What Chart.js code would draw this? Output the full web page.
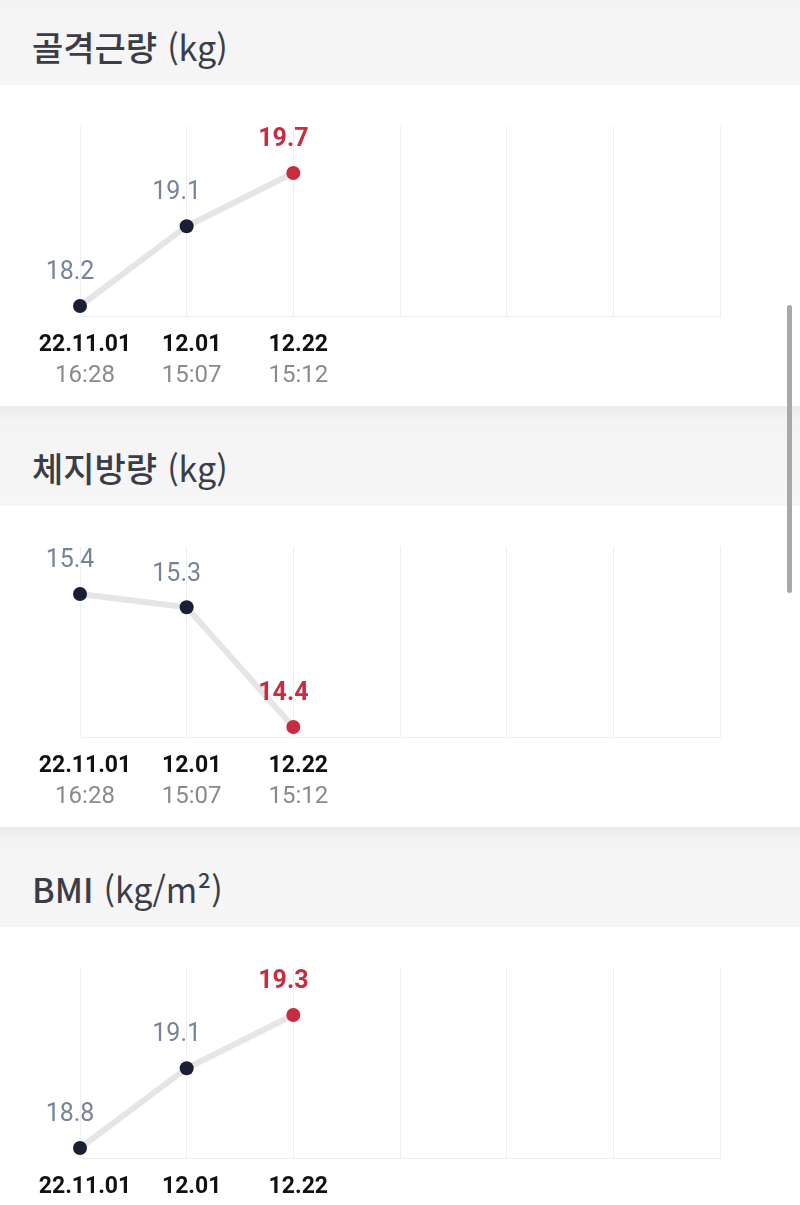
<!DOCTYPE html>
<html lang="ko">
<head>
  <meta charset="UTF-8" />
  <title>체성분 기록</title>
  <script src="https://cdn.jsdelivr.net/npm/chart.js"></script>
  <style>
    html, body { margin: 0; padding: 0; background: #fff; width: 800px; height: 1205px; overflow: hidden; }
    .page { position: relative; top: -15px; }
    .head { height: 100px; background: linear-gradient(to bottom, #ebebeb 0, #f4f4f4 14px, #f6f6f6 100%);
            display: flex; align-items: center; padding-left: 32px; box-sizing: border-box; padding-top: 22px;
            font-family: "Noto Sans CJK KR", sans-serif; font-size: 34px; color: #3a3d48; }
    .head b { font-weight: 500; margin-right: 10px; }
    .head span { font-weight: 400; }
    .block { height: 321px; }
    canvas { display: block; }
    .scroll { position: absolute; left: 787px; top: 305px; width: 5px; height: 288px; background: #a8a8a8; border-radius: 3px; }
  </style>
</head>
<body>
  <div class="page">
    <div class="head"><b>골격근량</b><span>(kg)</span></div>
    <div class="block"><canvas id="chart_muscle" width="800" height="321"></canvas></div>
    <div class="head"><b>체지방량</b><span>(kg)</span></div>
    <div class="block"><canvas id="chart_fat" width="800" height="321"></canvas></div>
    <div class="head"><b>BMI</b><span>(kg/m²)</span></div>
    <div class="block"><canvas id="chart_bmi" width="800" height="321"></canvas></div>
  </div>
  <div class="scroll"></div>

  <script>
    // measurement dates / times
    const dates = ["22.11.01", "12.01", "12.22"];
    const times = ["16:28", "15:07", "15:12"];
    const slotCount = 7; // columns shown on the grid

    const muscle = [18.2, 19.1, 19.7];
    const fat = [15.4, 15.3, 14.4];
    const bmi = [18.8, 19.1, 19.3];

    const navy = "#1b1f33", red = "#c72c41";

    const labels = [];
    for (let i = 0; i < slotCount; i++) labels.push(dates[i] || "");

    const pointLabels = {
      id: "pointLabels",
      afterDatasetsDraw(chart) {
        const ctx = chart.ctx;
        const pts = chart.getDatasetMeta(0).data;
        const vals = chart.data.datasets[0].data;
        ctx.save();
        ctx.textAlign = "center";
        ctx.textBaseline = "middle";
        pts.forEach((p, i) => {
          const last = i === vals.length - 1;
          ctx.font = (last ? "bold " : "") + "25px Roboto, 'Liberation Sans', sans-serif";
          ctx.fillStyle = last ? red : "#75849a";
          ctx.fillText(vals[i].toFixed(1), p.x - 10, p.y - 33);
        });
        // x labels: date (bold) + time
        const x = chart.scales.x, bottom = chart.chartArea.bottom;
        dates.forEach((d, i) => {
          const px = x.getPixelForValue(i) + 5;
          ctx.font = "bold 23px Roboto, 'Liberation Sans', sans-serif";
          ctx.fillStyle = "#111";
          ctx.fillText(d, px, bottom + 29);
          ctx.font = "24px Roboto, 'Liberation Sans', sans-serif";
          ctx.fillStyle = "#8a8a8a";
          ctx.fillText(times[i], px, bottom + 60);
        });
        ctx.restore();
      }
    };

    function makeChart(id, values) {
      const lo = Math.min(...values), hi = Math.max(...values);
      const r = hi - lo;
      new Chart(document.getElementById(id), {
        type: "line",
        data: {
          labels,
          datasets: [{
            data: values,
            borderColor: "#e5e5e5",
            borderWidth: 6,
            tension: 0,
            pointRadius: 7,
            pointHoverRadius: 7,
            pointBorderWidth: 0,
            pointBackgroundColor: values.map((v, i) => i === values.length - 1 ? red : navy),
            pointBorderColor: values.map((v, i) => i === values.length - 1 ? red : navy)
          }]
        },
        options: {
          responsive: false,
          animation: false,
          layout: { padding: { left: 80, right: 80, top: 41, bottom: 90 } },
          plugins: { legend: { display: false }, tooltip: { enabled: false } },
          scales: {
            x: {
              offset: false,
              ticks: { display: false },
              grid: { color: "#efefef", lineWidth: 1, drawTicks: false },
              border: { color: "#efefef" }
            },
            y: {
              display: false,
              min: lo - r * 10 / 133,
              max: lo + r * 180 / 133
            }
          },
          clip: false
        },
        plugins: [pointLabels]
      });
    }

    makeChart("chart_muscle", muscle);
    makeChart("chart_fat", fat);
    makeChart("chart_bmi", bmi);
  </script>
</body>
</html>
